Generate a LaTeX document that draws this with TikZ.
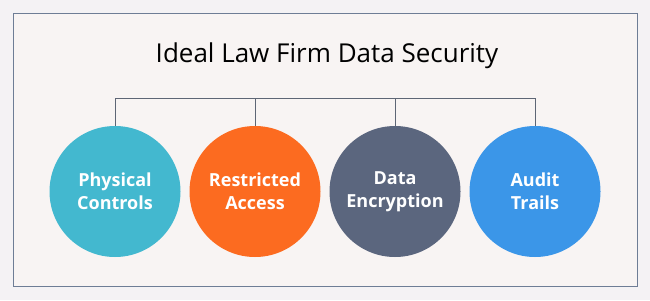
\documentclass[tikz,border=0pt]{standalone}
\usepackage{fontspec}
\setmainfont{Open Sans}
\begin{document}
\begin{tikzpicture}[x=1pt,y=-1pt,
  bubble/.style={circle,minimum size=131pt,inner sep=0pt,text=white,font=\fontsize{18}{23}\selectfont\bfseries,align=center},
  link/.style={draw=linkgray,line width=0.8pt}]
\definecolor{outerbg}{HTML}{F4F2F4}
\definecolor{innerbg}{HTML}{F8F4F3}
\definecolor{framecol}{HTML}{6E7D95}
\definecolor{linkgray}{HTML}{5E6675}
\definecolor{cteal}{HTML}{43B8CF}
\definecolor{corange}{HTML}{FC6B20}
\definecolor{cslate}{HTML}{5B667E}
\definecolor{cblue}{HTML}{3B96E8}
\fill[outerbg] (0,0) rectangle (650,300);
\useasboundingbox (0,0) rectangle (650,300);
\draw[draw=framecol,fill=innerbg,line width=0.9pt] (13,13) rectangle (637,286);
\node[font=\fontsize{26}{30}\selectfont,text=black] (title) at (327,56) {Ideal Law Firm Data Security};
\node[bubble,fill=cteal] (c1) at (115,191.5) {Physical\\Controls};
\node[bubble,fill=corange] (c2) at (255,191.5) {Restricted\\Access};
\node[bubble,fill=cslate] (c3) at (395,191.5) {Data\\Encryption};
\node[bubble,fill=cblue] (c4) at (535,191.5) {Audit\\Trails};
\coordinate (h1) at (115,98);
\coordinate (h2) at (255,98);
\coordinate (h3) at (395,98);
\coordinate (h4) at (535,98);
\draw[link] (c1.north) -- (h1) -- (h4) -- (c4.north);
\draw[link] (c2.north) -- (h2);
\draw[link] (c3.north) -- (h3);
\end{tikzpicture}
\end{document}
